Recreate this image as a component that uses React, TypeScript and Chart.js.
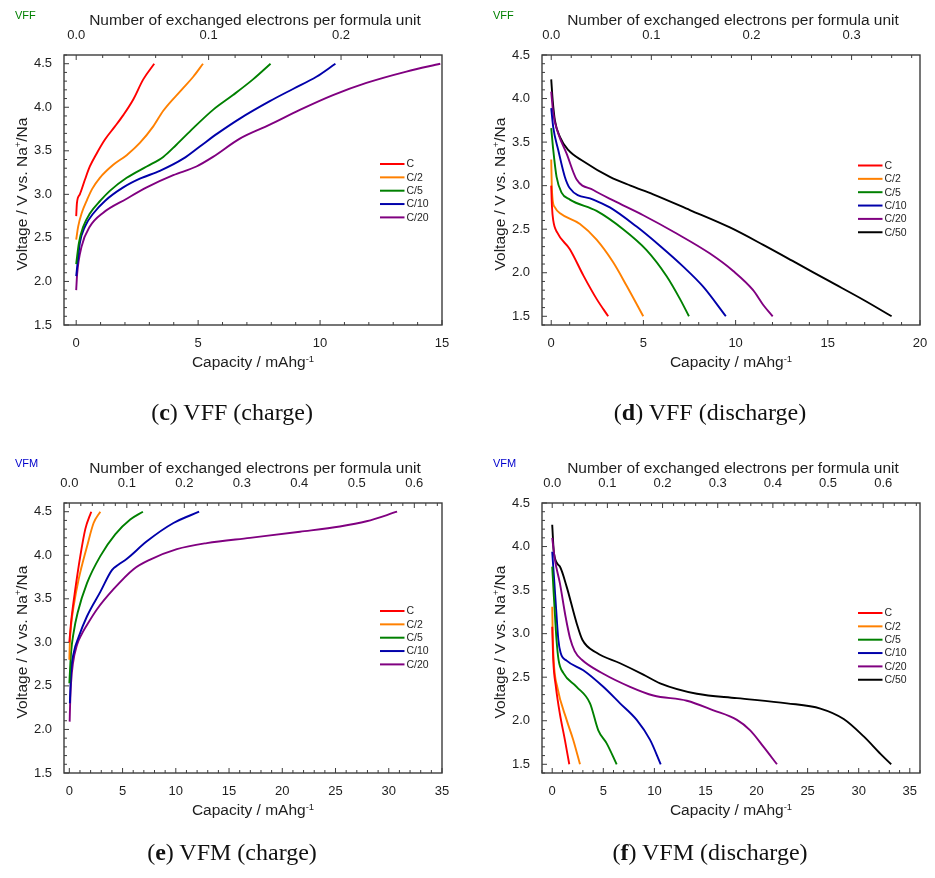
import React, { useEffect, useRef } from 'react';
import { Chart, registerables } from 'chart.js';

Chart.register(...registerables);

type Pt = [number, number];

// ---------------- data ----------------
const RATES_CHARGE = ['C', 'C/2', 'C/5', 'C/10', 'C/20'];
const RATES_DISCHARGE = ['C', 'C/2', 'C/5', 'C/10', 'C/20', 'C/50'];

// VFF charge (capacity mAh/g, voltage V)
const VFF_CH_C: Pt[] = [[0, 2.75], [0.03, 2.9], [0.15, 3.0], [0.36, 3.17], [0.56, 3.32], [0.84, 3.47], [1.18, 3.63], [1.59, 3.78], [1.93, 3.91], [2.34, 4.09], [2.75, 4.32], [3.2, 4.5]];
const VFF_CH_C2: Pt[] = [[0, 2.48], [0.08, 2.63], [0.22, 2.78], [0.45, 2.94], [0.65, 3.06], [0.97, 3.19], [1.52, 3.34], [2.07, 3.45], [2.61, 3.59], [3.16, 3.78], [3.57, 3.96], [4.32, 4.2], [4.8, 4.35], [5.2, 4.5]];
const VFF_CH_C5: Pt[] = [[0, 2.2], [0.11, 2.44], [0.29, 2.63], [0.56, 2.78], [1.0, 2.93], [1.38, 3.04], [2.07, 3.19], [2.89, 3.32], [3.57, 3.43], [4.11, 3.57], [4.8, 3.76], [5.61, 3.97], [6.43, 4.14], [7.25, 4.32], [7.97, 4.5]];
const VFF_CH_C10: Pt[] = [[0, 2.06], [0.15, 2.44], [0.36, 2.63], [0.7, 2.78], [1.2, 2.93], [1.93, 3.08], [2.61, 3.18], [3.43, 3.27], [4.39, 3.41], [5.07, 3.55], [5.8, 3.7], [6.71, 3.87], [7.94, 4.07], [8.89, 4.21], [9.85, 4.35], [10.63, 4.5]];
const VFF_CH_C20: Pt[] = [[0, 1.9], [0.04, 2.09], [0.22, 2.4], [0.56, 2.63], [1.11, 2.79], [2.07, 2.95], [2.89, 3.08], [3.98, 3.22], [4.93, 3.32], [5.61, 3.43], [6.71, 3.64], [7.94, 3.8], [9.17, 3.97], [10.53, 4.14], [11.9, 4.28], [13.54, 4.41], [14.93, 4.5]];

// VFF discharge
const VFF_DIS_C: Pt[] = [[0, 3.0], [0.04, 2.76], [0.11, 2.6], [0.33, 2.46], [1.01, 2.27], [1.74, 1.97], [2.46, 1.7], [3.09, 1.5]];
const VFF_DIS_C2: Pt[] = [[0, 3.3], [0.03, 3.0], [0.08, 2.83], [0.2, 2.75], [0.5, 2.68], [1.56, 2.56], [2.46, 2.38], [3.36, 2.12], [4.09, 1.85], [4.99, 1.5]];
const VFF_DIS_C5: Pt[] = [[0, 3.66], [0.11, 3.41], [0.29, 3.1], [0.56, 2.92], [1.01, 2.84], [2.46, 2.71], [3.9, 2.5], [5.17, 2.26], [6.26, 1.96], [6.98, 1.7], [7.47, 1.5]];
const VFF_DIS_C10: Pt[] = [[0, 3.89], [0.11, 3.67], [0.38, 3.41], [0.74, 3.1], [1.01, 2.97], [2.28, 2.84], [3.18, 2.75], [4.63, 2.53], [5.89, 2.31], [7.16, 2.07], [8.24, 1.84], [9.47, 1.5]];
const VFF_DIS_C20: Pt[] = [[0, 4.08], [0.11, 3.83], [0.38, 3.6], [0.83, 3.37], [1.38, 3.07], [2.28, 2.95], [3.36, 2.83], [4.99, 2.66], [6.8, 2.45], [8.61, 2.22], [9.87, 2.02], [10.95, 1.8], [11.5, 1.63], [12.01, 1.5]];
const VFF_DIS_C50: Pt[] = [[0, 4.22], [0.08, 3.98], [0.2, 3.75], [0.47, 3.56], [0.92, 3.41], [1.74, 3.28], [3.18, 3.1], [4.3, 3.0], [5.53, 2.9], [7.52, 2.72], [9.69, 2.52], [11.5, 2.32], [13.31, 2.11], [15.11, 1.9], [16.92, 1.69], [18.46, 1.5]];

// VFM charge
const VFM_CH_C: Pt[] = [[0, 3.0], [0.19, 3.26], [0.56, 3.61], [1.03, 3.99], [1.5, 4.3], [2.06, 4.5]];
const VFM_CH_C2: Pt[] = [[0, 2.8], [0.05, 3.0], [0.16, 3.19], [0.4, 3.41], [0.87, 3.72], [1.66, 4.1], [2.28, 4.37], [2.91, 4.5]];
const VFM_CH_C5: Pt[] = [[0, 2.53], [0.16, 2.88], [0.4, 3.11], [0.78, 3.34], [1.66, 3.68], [2.91, 3.99], [4.31, 4.24], [5.72, 4.41], [6.91, 4.5]];
const VFM_CH_C10: Pt[] = [[0.05, 2.3], [0.16, 2.65], [0.41, 2.88], [0.87, 3.06], [1.66, 3.3], [2.91, 3.58], [4.0, 3.83], [4.6, 3.89], [5.41, 3.96], [7.28, 4.16], [9.78, 4.37], [12.19, 4.5]];
const VFM_CH_C20: Pt[] = [[0.03, 2.09], [0.07, 2.27], [0.16, 2.53], [0.34, 2.76], [0.72, 2.97], [1.19, 3.1], [1.66, 3.2], [2.6, 3.38], [4.15, 3.61], [6.03, 3.84], [7.59, 3.95], [10.1, 4.07], [12.91, 4.14], [16.97, 4.2], [21.66, 4.27], [25.41, 4.33], [27.91, 4.39], [30.78, 4.5]];

// VFM discharge
const VFM_DIS_C: Pt[] = [[0, 3.08], [0.1, 2.7], [0.36, 2.39], [0.75, 2.08], [1.24, 1.78], [1.67, 1.5]];
const VFM_DIS_C2: Pt[] = [[0, 3.31], [0.05, 3.0], [0.15, 2.68], [0.49, 2.39], [1.41, 2.01], [2.06, 1.78], [2.72, 1.5]];
const VFM_DIS_C5: Pt[] = [[0, 3.77], [0.15, 3.45], [0.3, 3.15], [0.42, 2.93], [0.62, 2.7], [1.08, 2.55], [2.39, 2.39], [3.7, 2.2], [4.51, 1.89], [5.33, 1.74], [6.31, 1.5]];
const VFM_DIS_C10: Pt[] = [[0, 3.94], [0.2, 3.6], [0.4, 3.25], [0.6, 2.93], [0.82, 2.78], [1.41, 2.69], [3.04, 2.58], [5.0, 2.39], [6.64, 2.2], [8.27, 2.01], [9.58, 1.78], [10.62, 1.5]];
const VFM_DIS_C20: Pt[] = [[0, 4.1], [0.26, 3.85], [0.75, 3.58], [1.3, 3.2], [1.74, 2.95], [2.2, 2.8], [2.9, 2.7], [5.0, 2.54], [7.62, 2.39], [9.9, 2.29], [13.18, 2.23], [15.78, 2.12], [18.08, 2.01], [19.38, 1.89], [20.69, 1.7], [22.0, 1.5]];
const VFM_DIS_C50: Pt[] = [[0, 4.25], [0.17, 3.92], [0.75, 3.77], [1.41, 3.54], [2.39, 3.12], [2.95, 2.93], [4.35, 2.78], [6.64, 2.66], [8.92, 2.53], [10.56, 2.43], [14.16, 2.31], [18.08, 2.26], [22.98, 2.2], [26.25, 2.14], [28.53, 2.02], [30.49, 1.82], [32.13, 1.62], [33.18, 1.5]];

// tick values
const Y_TICKS = [1.5, 2.0, 2.5, 3.0, 3.5, 4.0, 4.5];
const VFF_CH_XTICKS = [0, 5, 10, 15];
const VFF_DIS_XTICKS = [0, 5, 10, 15, 20];
const VFM_XTICKS = [0, 5, 10, 15, 20, 25, 30, 35];
const VFF_CH_ETICKS = [0, 0.1, 0.2];
const VFF_DIS_ETICKS = [0, 0.1, 0.2, 0.3];
const VFM_ETICKS = [0, 0.1, 0.2, 0.3, 0.4, 0.5, 0.6];
// capacity (mAh/g) corresponding to one exchanged electron per formula unit
const VFF_CAP_PER_ELECTRON = 54.3;
const VFM_CAP_PER_ELECTRON = 54.0;

// ---------------- styles ----------------
const SERIES_COLORS = ['#ff0000', '#ff8000', '#008000', '#0000aa', '#800080', '#000000'];
const FONT = "'Liberation Sans', Arial, sans-serif";
const AXIS_COLOR = '#3c3c3c';
const TEXT_COLOR = '#1e1e1e';

interface Area { l: number; t: number; r: number; b: number }
interface PanelDef {
  id: string;
  tag: string;
  tagColor: string;
  letter: string;
  caption: string;
  series: Pt[][];
  labels: string[];
  xMin: number; xMax: number; yMin: number; yMax: number;
  xTicks: number[]; eTicks: number[]; k: number;
  left: number; top: number; w: number; h: number;
  area: Area;
  legendTop: number;
  captionX: number;
  captionBaseline: number;
}

const PANELS: PanelDef[] = [
  {
    id: 'c', tag: 'VFF', tagColor: '#008000', letter: 'c', caption: 'VFF (charge)',
    series: [VFF_CH_C, VFF_CH_C2, VFF_CH_C5, VFF_CH_C10, VFF_CH_C20], labels: RATES_CHARGE,
    xMin: -0.5, xMax: 15, yMin: 1.5, yMax: 4.6,
    xTicks: VFF_CH_XTICKS, eTicks: VFF_CH_ETICKS, k: VFF_CAP_PER_ELECTRON,
    left: 0, top: 0, w: 470, h: 440, area: { l: 64, t: 55, r: 442, b: 325 },
    legendTop: 109, captionX: 232, captionBaseline: 420,
  },
  {
    id: 'd', tag: 'VFF', tagColor: '#008000', letter: 'd', caption: 'VFF (discharge)',
    series: [VFF_DIS_C, VFF_DIS_C2, VFF_DIS_C5, VFF_DIS_C10, VFF_DIS_C20, VFF_DIS_C50], labels: RATES_DISCHARGE,
    xMin: -0.5, xMax: 20, yMin: 1.4, yMax: 4.5,
    xTicks: VFF_DIS_XTICKS, eTicks: VFF_DIS_ETICKS, k: VFF_CAP_PER_ELECTRON,
    left: 470, top: 0, w: 465, h: 440, area: { l: 72, t: 55, r: 450, b: 325 },
    legendTop: 110.5, captionX: 240, captionBaseline: 420,
  },
  {
    id: 'e', tag: 'VFM', tagColor: '#0000cc', letter: 'e', caption: 'VFM (charge)',
    series: [VFM_CH_C, VFM_CH_C2, VFM_CH_C5, VFM_CH_C10, VFM_CH_C20], labels: RATES_CHARGE,
    xMin: -0.5, xMax: 35, yMin: 1.5, yMax: 4.6,
    xTicks: VFM_XTICKS, eTicks: VFM_ETICKS, k: VFM_CAP_PER_ELECTRON,
    left: 0, top: 448, w: 470, h: 430, area: { l: 64, t: 55, r: 442, b: 325 },
    legendTop: 108, captionX: 232, captionBaseline: 412,
  },
  {
    id: 'f', tag: 'VFM', tagColor: '#0000cc', letter: 'f', caption: 'VFM (discharge)',
    series: [VFM_DIS_C, VFM_DIS_C2, VFM_DIS_C5, VFM_DIS_C10, VFM_DIS_C20, VFM_DIS_C50], labels: RATES_DISCHARGE,
    xMin: -1, xMax: 36, yMin: 1.4, yMax: 4.5,
    xTicks: VFM_XTICKS, eTicks: VFM_ETICKS, k: VFM_CAP_PER_ELECTRON,
    left: 470, top: 448, w: 465, h: 430, area: { l: 72, t: 55, r: 450, b: 325 },
    legendTop: 110, captionX: 240, captionBaseline: 412,
  },
];

type Part = { t: string; sup?: boolean };
const TITLE_SIZE = 15.5;
const SUP_SIZE = 9.5;

function drawRich(ctx: CanvasRenderingContext2D, parts: Part[], cx: number, baseline: number) {
  const fontOf = (p: Part) => `${p.sup ? SUP_SIZE : TITLE_SIZE}px ${FONT}`;
  let total = 0;
  const widths = parts.map((p) => {
    ctx.font = fontOf(p);
    const w = ctx.measureText(p.t).width;
    total += w;
    return w;
  });
  let x = cx - total / 2;
  ctx.textAlign = 'left';
  ctx.textBaseline = 'alphabetic';
  parts.forEach((p, i) => {
    ctx.font = fontOf(p);
    ctx.fillText(p.t, x, p.sup ? baseline - 5.5 : baseline);
    x += widths[i];
  });
}

function makeDecor(p: PanelDef) {
  return {
    id: 'decor_' + p.id,
    afterDatasetsDraw(chart: any) {
      const { ctx, chartArea: a, scales } = chart;
      ctx.save();
      // ticks (inward)
      ctx.strokeStyle = AXIS_COLOR;
      ctx.lineWidth = 1;
      const isMajor = (v: number, majors: number[]) => majors.some((m) => Math.abs(m - v) < 1e-6);
      const drawTicks = (scale: any, step: number, majors: number[], side: string) => {
        const n0 = Math.ceil(scale.min / step - 1e-9);
        const n1 = Math.floor(scale.max / step + 1e-9);
        for (let n = n0; n <= n1; n++) {
          const v = n * step;
          const len = isMajor(v, majors) ? 5 : 3;
          const px = scale.getPixelForValue(v);
          ctx.beginPath();
          if (side === 'left') { ctx.moveTo(a.left, px); ctx.lineTo(a.left + len, px); }
          else if (side === 'bottom') { ctx.moveTo(px, a.bottom); ctx.lineTo(px, a.bottom - len); }
          else { ctx.moveTo(px, a.top); ctx.lineTo(px, a.top + len); }
          ctx.stroke();
        }
      };
      drawTicks(scales.x, 1, p.xTicks, 'bottom');
      drawTicks(scales.x2, 0.02, p.eTicks, 'top');
      drawTicks(scales.y, 0.1, Y_TICKS, 'left');
      // frame
      ctx.lineWidth = 1.4;
      ctx.strokeRect(a.left, a.top, a.right - a.left, a.bottom - a.top);

      // legend
      ctx.font = `10.5px ${FONT}`;
      ctx.textBaseline = 'middle';
      ctx.textAlign = 'left';
      chart.data.datasets.forEach((ds: any, i: number) => {
        const y = a.top + p.legendTop + i * 13.35;
        ctx.strokeStyle = ds.borderColor;
        ctx.lineWidth = 2;
        ctx.beginPath();
        ctx.moveTo(a.right - 62, y);
        ctx.lineTo(a.right - 37.5, y);
        ctx.stroke();
        ctx.fillStyle = TEXT_COLOR;
        ctx.fillText(ds.label, a.right - 35.5, y + 0.5);
      });

      // axis titles
      ctx.fillStyle = TEXT_COLOR;
      const cx = (a.left + a.right) / 2;
      drawRich(ctx, [{ t: 'Number of exchanged electrons per formula unit' }], cx + 2, 25);
      drawRich(ctx, [{ t: 'Capacity / mAhg' }, { t: '-1', sup: true }], cx, a.bottom + 42);
      ctx.save();
      ctx.translate(a.left - 37.5, (a.top + a.bottom) / 2 + 4);
      ctx.rotate(-Math.PI / 2);
      drawRich(ctx, [{ t: 'Voltage / V vs. Na' }, { t: '+', sup: true }, { t: '/Na' }], 0, 0);
      ctx.restore();

      // material tag
      ctx.fillStyle = p.tagColor;
      ctx.font = `11px ${FONT}`;
      ctx.textAlign = 'left';
      ctx.textBaseline = 'alphabetic';
      ctx.fillText(p.tag, a.left - 49, 19);
      ctx.restore();
    },
  };
}

function Panel({ p }: { p: PanelDef }) {
  const ref = useRef<HTMLCanvasElement>(null);
  useEffect(() => {
    const a = p.area;
    const tickFont = { family: FONT, size: 13 };
    const chart = new Chart(ref.current as HTMLCanvasElement, {
      type: 'line',
      data: {
        datasets: p.series.map((s, i) => ({
          label: p.labels[i],
          data: s.map(([x, y]) => ({ x, y })),
          borderColor: SERIES_COLORS[i],
          backgroundColor: SERIES_COLORS[i],
          borderWidth: 1.9,
          pointRadius: 0,
          cubicInterpolationMode: 'monotone',
          fill: false,
          xAxisID: 'x',
          yAxisID: 'y',
        })),
      },
      options: {
        responsive: false,
        animation: false,
        devicePixelRatio: 1,
        layout: { padding: { left: 0, top: 0, bottom: 0, right: p.w - a.r } },
        plugins: { legend: { display: false }, tooltip: { enabled: false } },
        scales: {
          x: {
            type: 'linear', position: 'bottom', min: p.xMin, max: p.xMax, bounds: 'data',
            grid: { display: false }, border: { display: false },
            ticks: { color: TEXT_COLOR, font: tickFont, padding: 3, autoSkip: false, maxRotation: 0, callback: (v: any) => String(v) },
            afterBuildTicks: (s: any) => { s.ticks = p.xTicks.map((v) => ({ value: v })); },
            afterFit: (s: any) => { s.height = p.h - a.b; s.paddingLeft = 0; s.paddingRight = 0; },
          },
          x2: {
            type: 'linear', position: 'top', min: p.xMin / p.k, max: p.xMax / p.k, bounds: 'data',
            grid: { display: false }, border: { display: false },
            ticks: { color: TEXT_COLOR, font: tickFont, padding: 4, autoSkip: false, maxRotation: 0, callback: (v: any) => Number(v).toFixed(1) },
            afterBuildTicks: (s: any) => { s.ticks = p.eTicks.map((v) => ({ value: v })); },
            afterFit: (s: any) => { s.height = a.t; s.paddingLeft = 0; s.paddingRight = 0; },
          },
          y: {
            type: 'linear', position: 'left', min: p.yMin, max: p.yMax, bounds: 'data',
            grid: { display: false }, border: { display: false },
            ticks: { color: TEXT_COLOR, font: tickFont, padding: 4, autoSkip: false, callback: (v: any) => Number(v).toFixed(1) },
            afterBuildTicks: (s: any) => { s.ticks = Y_TICKS.map((v) => ({ value: v })); },
            afterFit: (s: any) => { s.width = a.l; s.paddingTop = 0; s.paddingBottom = 0; },
          },
        },
      } as any,
      plugins: [makeDecor(p)],
    });
    return () => chart.destroy();
  }, [p]);

  return (
    <div style={{ position: 'absolute', left: p.left, top: p.top, width: p.w, height: p.h }}>
      <canvas ref={ref} width={p.w} height={p.h} style={{ position: 'absolute', left: 0, top: 0, width: p.w, height: p.h }} />
      <div
        style={{
          position: 'absolute', left: p.captionX - 160, top: p.captionBaseline - 20, width: 320,
          textAlign: 'center', fontFamily: "'Liberation Serif', 'Times New Roman', serif",
          fontSize: 24, lineHeight: '24px', color: '#111', whiteSpace: 'nowrap',
        }}
      >
        (<b>{p.letter}</b>) {p.caption}
      </div>
    </div>
  );
}

export default function App() {
  return (
    <div style={{ position: 'absolute', left: 0, top: 0, width: 935, height: 878, background: '#fff', overflow: 'hidden' }}>
      {PANELS.map((p) => (
        <Panel key={p.id} p={p} />
      ))}
    </div>
  );
}
